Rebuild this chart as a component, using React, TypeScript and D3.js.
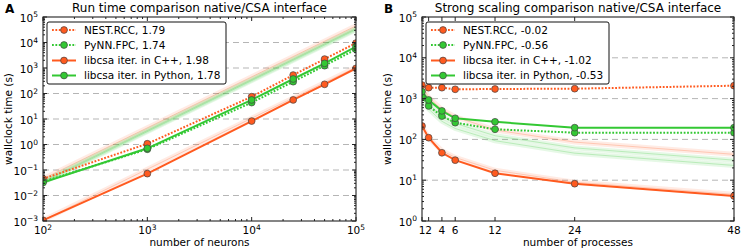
import React from "react";
import * as d3 from "d3";

// ---------- data ----------
const neuronsA = [100, 1000, 10000, 25000, 50000, 100000];
const nestA = [0.045, 1.07, 75, 530, 2240, 9500];
const pynnA = [0.035, 0.65, 44, 290, 1230, 5400];
const cppA = [0.00107, 0.072, 8.3, 56, 229, 970];
const pyA = [0.032, 0.71, 56, 370, 1520, 6900];

// faint ideal-scaling reference lines (panel A), values at 10^2 and 10^5
const bandXA = [100, 100000];
const nestBandA = [0.045, 45000];
const pynnBandA = [0.035, 35000];
const pyBandA = [0.032, 32000];
const cppBandA = [0.00107, 1070];

const procsB = [1, 2, 4, 6, 12, 24, 48];
const nestB = [2150, 1850, 1850, 1690, 1720, 1750, 2070];
const pynnB = [1110, 660, 373, 257, 177, 146, 146];
const cppB = [213, 110, 47, 31, 14.8, 8.2, 4.1];
const pyB = [1480, 925, 500, 329, 270, 194, 194];

// faint ideal-scaling reference lines (panel B)
const nestBandB = [2150, 1075, 538, 358, 170, 86, 43];
const pynnBandB = [1110, 555, 278, 185, 93, 46, 23];
const pyBandB = [1480, 740, 370, 247, 123, 62, 31];
const cppBandB = [213, 107, 53, 36, 17.5, 8.9, 4.5];

const labelsA = ["NEST.RCC, 1.79", "PyNN.FPC, 1.74", "libcsa iter. in C++, 1.98", "libcsa iter. in Python, 1.78"];
const labelsB = ["NEST.RCC, -0.02", "PyNN.FPC, -0.56", "libcsa iter. in C++, -1.02", "libcsa iter. in Python, -0.53"];

const xTicksA = [2, 3, 4, 5];
const yTicksA = [-3, -2, -1, 0, 1, 2, 3, 4, 5];
const yTicksB = [0, 1, 2, 3, 4, 5];
const xTicksB = [1, 2, 4, 6, 12, 24, 48];

const ORANGE = "#ff5a1f";
const GREEN = "#33c833";
const FONT = "DejaVu Sans, sans-serif";
const FRAME = "#222";

const TOP = 17;
const BOTTOM = 221;

function Pow({ x, y, exp, anchor }: { x: number; y: number; exp: number; anchor: string }) {
  const e = exp < 0 ? "\u2212" + Math.abs(exp) : String(exp);
  return (
    <text x={x} y={y} textAnchor={anchor} fontSize={10.5} fontFamily={FONT} fill="#000">
      10
      <tspan dy={-4.5} fontSize={7.5}>
        {e}
      </tspan>
    </text>
  );
}

type Series = { vals: number[]; color: string; dotted: boolean };

function Panel({
  left, right, xScale, yScale, xs, series, bands, bandXs, title, letter, xLabel,
  legendLabels, legendRight, logX, yExps, xTickVals, clipId,
}: any) {
  const line = (vals: number[], xv: number[]) =>
    d3.line<number>().x((_, i) => xScale(xv[i])).y((d) => yScale(d))(vals) as string;

  const yDomain = yScale.domain();
  const lo = Math.log10(yDomain[0]);
  const hi = Math.log10(yDomain[1]);
  const yMinor: number[] = [];
  for (let k = lo; k < hi; k++) for (let m = 2; m <= 9; m++) yMinor.push(m * Math.pow(10, k));
  const xMinor: number[] = [];
  if (logX) {
    const xd = xScale.domain();
    for (let k = Math.log10(xd[0]); k < Math.log10(xd[1]); k++)
      for (let m = 2; m <= 9; m++) xMinor.push(m * Math.pow(10, k));
  }
  const gridExps = yExps.filter((e: number) => e > lo && e < hi);
  const cy = (TOP + BOTTOM) / 2;
  const cx = (left + right) / 2;
  const rowsY = [30, 45, 60.5, 75.5];
  const order = [0, 1, 2, 3];

  return (
    <g>
      <defs>
        <clipPath id={clipId}>
          <rect x={left} y={TOP} width={right - left} height={BOTTOM - TOP} />
        </clipPath>
      </defs>
      {/* grid */}
      {gridExps.map((e: number) => (
        <line key={"g" + e} x1={left} x2={right} y1={yScale(Math.pow(10, e))} y2={yScale(Math.pow(10, e))}
          stroke="#b5b5b5" strokeWidth={1} strokeDasharray="6,4" />
      ))}
      <g clipPath={`url(#${clipId})`}>
        {bands.map((b: any, i: number) => (
          <g key={"b" + i}>
            <path d={line(b.vals, bandXs)} fill="none" stroke={b.color} strokeOpacity={0.12} strokeWidth={5} />
            <path d={line(b.vals, bandXs)} fill="none" stroke={b.color} strokeOpacity={0.25} strokeWidth={1} />
          </g>
        ))}
        {series.map((s: Series, i: number) => (
          <path key={"s" + i} d={line(s.vals, xs)} fill="none" stroke={s.color} strokeWidth={2}
            strokeDasharray={s.dotted ? "1.8,1.6" : undefined} />
        ))}
        {series.map((s: Series, i: number) =>
          s.vals.map((v: number, j: number) => (
            <circle key={"m" + i + "-" + j} cx={xScale(xs[j])} cy={yScale(v)} r={3.4}
              fill={s.color} stroke="#444" strokeWidth={0.7} />
          ))
        )}
      </g>
      {/* frame */}
      <rect x={left} y={TOP} width={right - left} height={BOTTOM - TOP} fill="none" stroke={FRAME} strokeWidth={1.1} />
      {/* y ticks */}
      {yExps.map((e: number) => {
        const y = yScale(Math.pow(10, e));
        return (
          <g key={"yt" + e}>
            <line x1={left} x2={left + 4} y1={y} y2={y} stroke={FRAME} />
            <line x1={right} x2={right - 4} y1={y} y2={y} stroke={FRAME} />
            <Pow x={left - 5} y={y + 4.5} exp={e} anchor="end" />
          </g>
        );
      })}
      {yMinor.map((v, i) => (
        <g key={"ym" + i}>
          <line x1={left} x2={left + 2} y1={yScale(v)} y2={yScale(v)} stroke={FRAME} />
          <line x1={right} x2={right - 2} y1={yScale(v)} y2={yScale(v)} stroke={FRAME} />
        </g>
      ))}
      {/* x ticks */}
      {xTickVals.map((t: number) => {
        const xv = logX ? Math.pow(10, t) : t;
        const x = xScale(xv);
        return (
          <g key={"xt" + t}>
            <line x1={x} x2={x} y1={BOTTOM} y2={BOTTOM - 4} stroke={FRAME} />
            <line x1={x} x2={x} y1={TOP} y2={TOP + 4} stroke={FRAME} />
            {logX ? (
              <Pow x={x} y={234} exp={t} anchor="middle" />
            ) : (
              <text x={x} y={233.5} textAnchor="middle" fontSize={10.5} fontFamily={FONT}>{t}</text>
            )}
          </g>
        );
      })}
      {xMinor.map((v, i) => (
        <g key={"xm" + i}>
          <line x1={xScale(v)} x2={xScale(v)} y1={BOTTOM} y2={BOTTOM - 2} stroke={FRAME} />
          <line x1={xScale(v)} x2={xScale(v)} y1={TOP} y2={TOP + 2} stroke={FRAME} />
        </g>
      ))}
      {/* titles */}
      <text x={cx} y={11.5} textAnchor="middle" fontSize={12} fontFamily={FONT}>{title}</text>
      <text x={left - 38} y={13} fontSize={12} fontWeight="bold" fontFamily={FONT}>{letter}</text>
      <text x={cx} y={246} textAnchor="middle" fontSize={10.5} fontFamily={FONT}>{xLabel}</text>
      <text transform={`translate(${left - 31.5},${cy}) rotate(-90)`} textAnchor="middle" fontSize={10.5} fontFamily={FONT}>
        wallclock time (s)
      </text>
      {/* legend */}
      <rect x={left + 4} y={22} width={legendRight - left - 4} height={62} rx={2} fill="#fff" stroke="#111" strokeWidth={1} />
      {order.map((i) => {
        const s = series[i];
        const y = rowsY[i];
        return (
          <g key={"lg" + i}>
            <line x1={left + 9} x2={left + 33} y1={y} y2={y} stroke={s.color} strokeWidth={2}
              strokeDasharray={s.dotted ? "1.8,1.6" : undefined} />
            <circle cx={left + 21} cy={y} r={3.4} fill={s.color} stroke="#444" strokeWidth={0.7} />
            <text x={left + 41} y={y + 3.8} fontSize={10.5} fontFamily={FONT}>{legendLabels[i]}</text>
          </g>
        );
      })}
    </g>
  );
}

export default function App() {
  const xA = d3.scaleLog().domain([100, 100000]).range([43, 356]);
  const yA = d3.scaleLog().domain([1e-3, 1e5]).range([BOTTOM, TOP]);
  const xB = d3.scaleLinear().domain([1, 48]).range([422, 734]);
  const yB = d3.scaleLog().domain([1, 1e5]).range([BOTTOM, TOP]);

  const seriesA: Series[] = [
    { vals: nestA, color: ORANGE, dotted: true },
    { vals: pynnA, color: GREEN, dotted: true },
    { vals: cppA, color: ORANGE, dotted: false },
    { vals: pyA, color: GREEN, dotted: false },
  ];
  const seriesB: Series[] = [
    { vals: nestB, color: ORANGE, dotted: true },
    { vals: pynnB, color: GREEN, dotted: true },
    { vals: cppB, color: ORANGE, dotted: false },
    { vals: pyB, color: GREEN, dotted: false },
  ];
  const bandsA = [
    { vals: nestBandA, color: ORANGE },
    { vals: pynnBandA, color: GREEN },
    { vals: pyBandA, color: GREEN },
    { vals: cppBandA, color: ORANGE },
  ];
  const bandsB = [
    { vals: nestBandB, color: ORANGE },
    { vals: pynnBandB, color: GREEN },
    { vals: pyBandB, color: GREEN },
    { vals: cppBandB, color: ORANGE },
  ];

  return (
    <svg width={744} height={252} style={{ position: "absolute", left: 0, top: 0, background: "#fff" }}>
      <rect width={744} height={252} fill="#fff" />
      <Panel left={43} right={356} xScale={xA} yScale={yA} xs={neuronsA} series={seriesA}
        bands={bandsA} bandXs={bandXA} title="Run time comparison native/CSA interface" letter="A"
        xLabel="number of neurons" legendLabels={labelsA} legendRight={226} logX={true}
        yExps={yTicksA} xTickVals={xTicksA} clipId="clipA" />
      <Panel left={422} right={734} xScale={xB} yScale={yB} xs={procsB} series={seriesB}
        bands={bandsB} bandXs={procsB} title="Strong scaling comparison native/CSA interface" letter="B"
        xLabel="number of processes" legendRight={609} legendLabels={labelsB} logX={false}
        yExps={yTicksB} xTickVals={xTicksB} clipId="clipB" />
    </svg>
  );
}
